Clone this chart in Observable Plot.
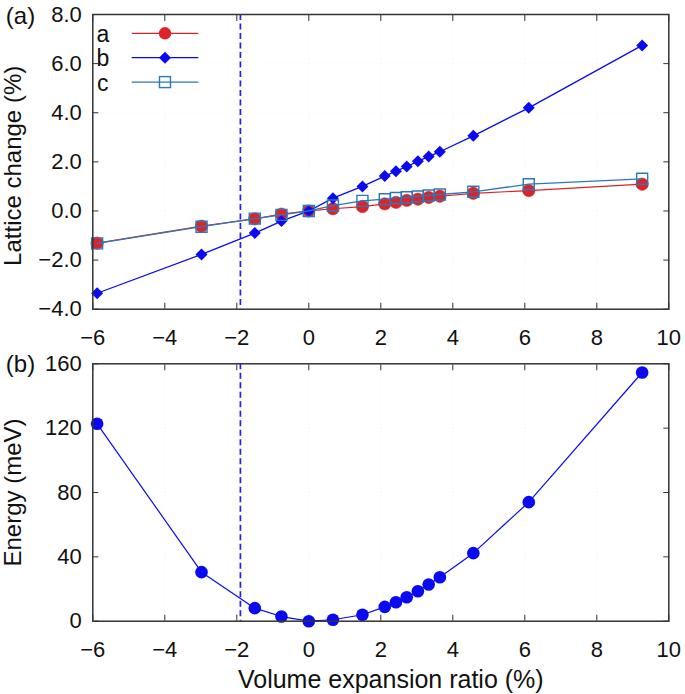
<!DOCTYPE html>
<html><head><meta charset="utf-8">
<script src="https://cdn.jsdelivr.net/npm/d3@7"></script>
<script src="https://cdn.jsdelivr.net/npm/@observablehq/plot@0.6"></script>
<style>
body{margin:0;background:#fff;}
#chart{width:685px;height:694px;position:relative;background:#fff;}
#chart svg{display:block;}
</style></head><body><div id="chart"></div>
<script>
// ---- data ----
const ratio    = [-5.88, -2.98, -1.50, -0.76, 0, 0.67, 1.49, 2.11, 2.42, 2.72, 3.03, 3.33, 3.64, 4.57, 6.11, 9.26];
const latticeA = [-1.31, -0.62, -0.32, -0.13, 0, 0.09, 0.18, 0.29, 0.35, 0.43, 0.48, 0.55, 0.60, 0.72, 0.83, 1.09];
const latticeB = [-3.35, -1.77, -0.90, -0.41, 0, 0.52, 1.00, 1.42, 1.62, 1.81, 2.02, 2.22, 2.41, 3.06, 4.20, 6.74];
const latticeC = [-1.32, -0.64, -0.31, -0.16, 0, 0.22, 0.41, 0.48, 0.53, 0.56, 0.59, 0.63, 0.67, 0.78, 1.09, 1.31];
const energy   = [122.7, 30.5, 8.1, 2.9, 0, 0.9, 4.0, 8.9, 11.8, 14.9, 18.6, 22.8, 27.3, 42.3, 74.0, 154.6];
const seriesNames = ["a", "b", "c"];
const xTicks = [-6, -4, -2, 0, 2, 4, 6, 8, 10];
const latticeTicks = [-4, -2, 0, 2, 4, 6, 8];
const energyTicks = [0, 40, 80, 120, 160];
const markerLine = [-1.9];

// ---- styles ----
const FONT = '"Liberation Sans", Arial, Helvetica, sans-serif';
const W = 685, ML = 92.3, MR = 16.7;
const RED = "#de2229", BLUE = "#0a0af0", STEEL = "#2a78b8";
const gridStyle = {stroke: "#b4b4b4", strokeDasharray: "1.5,2.5", strokeWidth: 0.8};
const dashStyle = {stroke: "#2020e8", strokeDasharray: "6,3.5", strokeWidth: 1.7};
const rootStyle = {fontFamily: FONT, fontSize: "22px", color: "#111", background: "#fff", overflow: "visible"};

function frameAxes(yTicks, yFmt) {
  return [
    Plot.gridX(xTicks.slice(1, -1), gridStyle),
    Plot.gridY(yTicks.slice(1, -1), gridStyle),
    Plot.axisX(xTicks, {anchor: "bottom", tickSize: -6, tickPadding: 26, label: null, stroke: "#333"}),
    Plot.axisX(xTicks, {anchor: "top", tickSize: -6, tickFormat: () => "", label: null, stroke: "#333"}),
    Plot.axisY(yTicks, {anchor: "left", tickSize: -6, tickPadding: 17, tickFormat: yFmt, label: null, stroke: "#333"}),
    Plot.axisY(yTicks, {anchor: "right", tickSize: -6, tickFormat: () => "", label: null, stroke: "#333"}),
    Plot.ruleX(markerLine, dashStyle)
  ];
}

const topChart = Plot.plot({
  width: W, height: 340,
  marginLeft: ML, marginRight: MR, marginTop: 14, marginBottom: 31.3,
  style: rootStyle,
  x: {domain: [-6, 10]},
  y: {domain: [-4, 8]},
  marks: [
    ...frameAxes(latticeTicks, d3.format(".1f")),
    Plot.line(ratio, {x: ratio, y: latticeA, stroke: RED, strokeWidth: 1.2}),
    Plot.dot(ratio, {x: ratio, y: latticeA, r: 6.2, fill: RED, stroke: "#b8262b", strokeWidth: 0.5}),
    Plot.line(ratio, {x: ratio, y: latticeB, stroke: BLUE, strokeWidth: 1.3}),
    Plot.dot(ratio, {x: ratio, y: latticeB, symbol: "diamond2", r: 5.4, fill: BLUE}),
    Plot.line(ratio, {x: ratio, y: latticeC, stroke: STEEL, strokeWidth: 1.3}),
    Plot.dot(ratio, {x: ratio, y: latticeC, symbol: "square", r: 6.2, fill: "none", stroke: STEEL, strokeWidth: 1.4}),
    Plot.frame({stroke: "#333", strokeWidth: 1.5}),
    Plot.text(["(a)"], {frameAnchor: "top-left", dx: -87, dy: 2, textAnchor: "start", lineAnchor: "middle", fontSize: 24}),
    Plot.text(["Lattice change (%)"], {frameAnchor: "left", rotate: -90, dx: -79, dy: 4, textAnchor: "middle", lineAnchor: "middle", fontSize: 24})
  ]
});

const bottomChart = Plot.plot({
  width: W, height: 354,
  marginLeft: ML, marginRight: MR, marginTop: 23.3, marginBottom: 73.3,
  style: rootStyle,
  x: {domain: [-6, 10]},
  y: {domain: [0, 160]},
  marks: [
    ...frameAxes(energyTicks, d3.format("d")),
    Plot.line(ratio, {x: ratio, y: energy, stroke: BLUE, strokeWidth: 1.2}),
    Plot.dot(ratio, {x: ratio, y: energy, r: 6.3, fill: BLUE}),
    Plot.frame({stroke: "#333", strokeWidth: 1.5}),
    Plot.text(["(b)"], {frameAnchor: "top-left", dx: -87, dy: 1, textAnchor: "start", lineAnchor: "middle", fontSize: 24}),
    Plot.text(["Energy (meV)"], {frameAnchor: "left", rotate: -90, dx: -79, textAnchor: "middle", lineAnchor: "middle", fontSize: 24}),
    Plot.text(["Volume expansion ratio (%)"], {frameAnchor: "bottom", dx: 10, dy: 59, lineAnchor: "middle", fontSize: 25})
  ]
});

const root = document.getElementById("chart");
root.appendChild(topChart);
root.appendChild(bottomChart);

// ---- legend (inside panel a, top-left) ----
(function legend() {
  const svg = d3.select(topChart);
  const x0 = ML, y0 = 14;
  const styles = [
    {color: RED, shape: "circle"},
    {color: BLUE, shape: "diamond"},
    {color: STEEL, shape: "square"}
  ];
  const g = svg.append("g").attr("font-family", FONT);
  seriesNames.forEach((name, i) => {
    const cy = y0 + 19.3 + 24.4 * i;
    const s = styles[i];
    g.append("text").attr("x", x0 + 10.5).attr("y", cy + 8.5).attr("font-size", 23).attr("fill", "#111").text(name);
    g.append("line").attr("x1", x0 + 39.4).attr("x2", x0 + 106).attr("y1", cy).attr("y2", cy)
      .attr("stroke", s.color).attr("stroke-width", 1.3);
    const mx = x0 + 72.7;
    if (s.shape === "circle") {
      g.append("circle").attr("cx", mx).attr("cy", cy).attr("r", 6.2).attr("fill", s.color);
    } else if (s.shape === "diamond") {
      g.append("path").attr("d", `M${mx},${cy - 6}L${mx + 6},${cy}L${mx},${cy + 6}L${mx - 6},${cy}Z`).attr("fill", s.color);
    } else {
      g.append("rect").attr("x", mx - 5.5).attr("y", cy - 5.5).attr("width", 11).attr("height", 11)
        .attr("fill", "none").attr("stroke", s.color).attr("stroke-width", 1.4);
    }
  });
})();
</script>
</body></html>
